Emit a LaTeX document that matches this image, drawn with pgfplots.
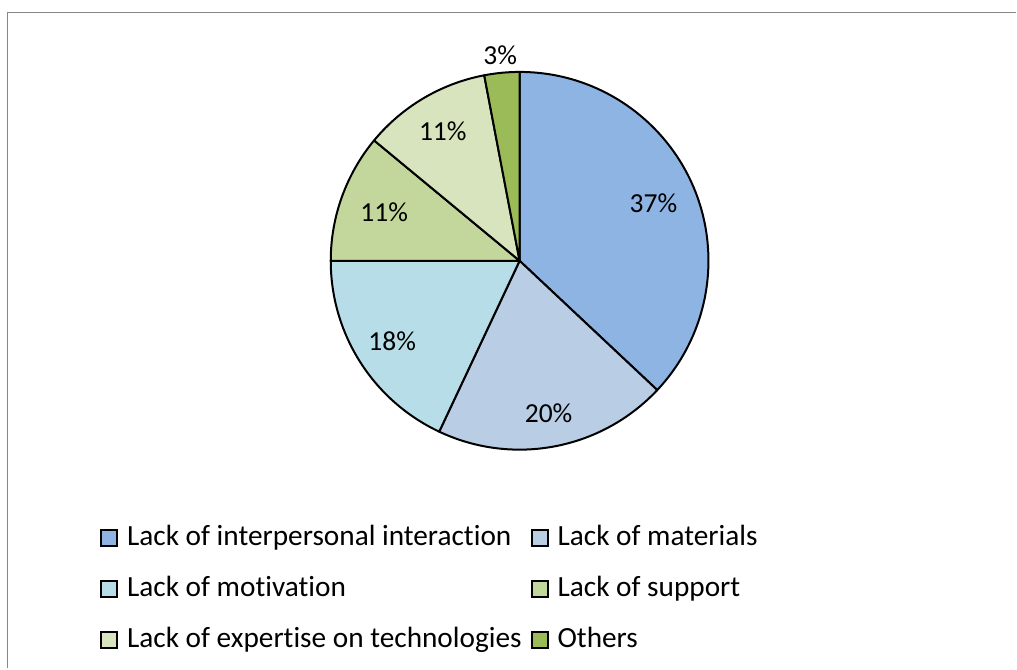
\documentclass[border=0pt]{standalone}
\usepackage{fontspec}
\setmainfont{Carlito}[RawFeature={-liga}]
\usepackage{pgfplots}
\usepackage{pgfplotstable}
\usetikzlibrary{calc}
\pgfplotsset{compat=1.18}
\definecolor{cA}{HTML}{8EB4E3}
\definecolor{cB}{HTML}{B9CDE5}
\definecolor{cC}{HTML}{B7DEE8}
\definecolor{cD}{HTML}{C3D69B}
\definecolor{cE}{HTML}{D7E4BD}
\definecolor{cF}{HTML}{9BBB59}
\definecolor{frame}{HTML}{878787}

% value, colour, label radius (px)
\pgfplotstableread{
value color lr
37 cA 146
20 cB 155
18 cC 151
11 cD 144
11 cE 151
3  cF 207
}\piedata

\newcommand\pcfont{\fontsize{27.5bp}{30bp}\selectfont}
\newcommand\lgfont{\fontsize{29.3bp}{32bp}\selectfont}

\begin{document}
\begin{tikzpicture}
\begin{axis}[
  scale only axis,
  width=1017bp, height=669bp,
  xmin=0, xmax=1017, ymin=0, ymax=669,
  hide axis, clip=false,
  legend cell align=left,
  legend columns=2,
  legend image code/.code={\draw[#1, draw=black, line width=2bp] (1bp,-7.5bp) rectangle (17bp,8.5bp);},
  legend style={at={(axis cs:100,143)}, anchor=north west, draw=none, fill=none, inner sep=0pt,
    font=\lgfont, column sep=9bp, row sep=25bp,
    nodes={inner sep=0pt, text height=20bp, text depth=6bp}},
]
\path (axis cs:0,0) rectangle (axis cs:1017,669);
\draw[frame, line width=1.6bp] (axis cs:7.5,0) -- (axis cs:7.5,656.5) -- (axis cs:1017,656.5);

\gdef\startangle{90}
\pgfplotsforeachungrouped \i in {0,...,5}{%
  \pgfplotstablegetelem{\i}{value}\of\piedata \let\v=\pgfplotsretval
  \pgfplotstablegetelem{\i}{color}\of\piedata \let\c=\pgfplotsretval
  \pgfplotstablegetelem{\i}{lr}\of\piedata \let\lr=\pgfplotsretval
  \pgfmathsetmacro\endangle{\startangle-3.6*\v}%
  \pgfmathsetmacro\midangle{(\startangle+\endangle)/2}%
  \edef\cmd{\noexpand\filldraw[fill=\c, draw=black, line width=2bp, line join=round]
    (axis cs:520,408) -- ++(\startangle:189bp) arc[start angle=\startangle, end angle=\endangle, radius=189bp] -- cycle;
    \noexpand\node[font=\noexpand\pcfont] at ($(axis cs:520,408)+(\midangle:\lr bp)$) {\v\noexpand\%};}%
  \cmd
  \global\let\startangle\endangle
}

\addlegendimage{fill=cA}\addlegendentry{Lack of interpersonal interaction}
\addlegendimage{fill=cB}\addlegendentry{Lack of materials}
\addlegendimage{fill=cC}\addlegendentry{Lack of motivation}
\addlegendimage{fill=cD}\addlegendentry{Lack of support}
\addlegendimage{fill=cE}\addlegendentry{Lack of expertise on technologies}
\addlegendimage{fill=cF}\addlegendentry{Others}
\end{axis}
\end{tikzpicture}
\end{document}
